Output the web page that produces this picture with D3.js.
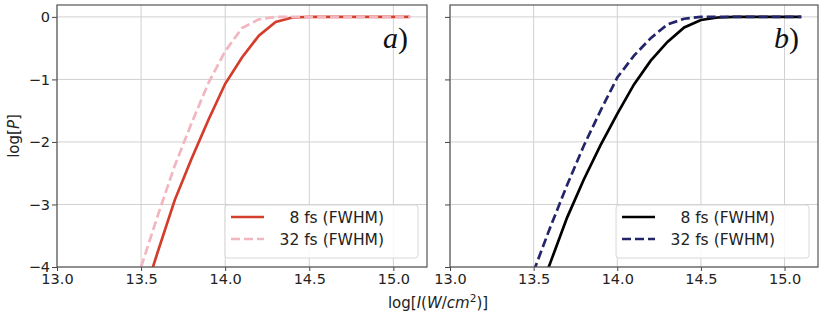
<!DOCTYPE html>
<html>
<head>
<meta charset="utf-8">
<script src="https://cdn.jsdelivr.net/npm/d3@7"></script>
<style>
    body { margin: 0; background: #fff; }
    svg text { font-family: "DejaVu Sans", sans-serif; }
</style>
</head>
<body>
<svg id="chart" width="823" height="316"></svg>
<script>
// log intensity grid shared by all curves
const logI = [13.5, 13.6, 13.7, 13.8, 13.9, 14.0, 14.1, 14.2, 14.3, 14.4, 14.5, 14.6, 14.7, 14.8, 14.9, 15.0, 15.1]

// panel a)
const a8fs = [-4.6, -3.75, -2.93, -2.27, -1.65, -1.07, -0.65, -0.3, -0.08, -0.01, 0, 0, 0, 0, 0, 0, 0]
const a32fs = [-4.0, -3.17, -2.38, -1.7, -1.06, -0.55, -0.18, -0.04, 0, 0, 0, 0, 0, 0, 0, 0, 0]

// panel b)
const b8fs = [-4.65, -3.93, -3.21, -2.6, -2.05, -1.55, -1.08, -0.7, -0.4, -0.17, -0.05, -0.01, 0, 0, 0, 0, 0]
const b32fs = [-4.07, -3.36, -2.69, -2.06, -1.5, -0.97, -0.62, -0.34, -0.12, -0.03, 0, 0, 0, 0, 0, 0, 0]

const xTicks = [13.0, 13.5, 14.0, 14.5, 15.0]
const yTicks = [0, -1, -2, -3, -4]
const legendLabels = ["8 fs (FWHM)", "32 fs (FWHM)"]

const panels = [
    {x0: 57, x1: 427, tag: "a", yLabels: true, series: [
        {vals: a8fs, color: "#d43d2b", dash: null},
        {vals: a32fs, color: "#f2b6c0", dash: "9,4"}
    ]},
    {x0: 450, x1: 818, tag: "b", yLabels: false, series: [
        {vals: b8fs, color: "#000000", dash: null},
        {vals: b32fs, color: "#23256b", dash: "9,4"}
    ]}
]

const plotTop = 5, plotBottom = 267

let svg = d3.select("#chart")

panels.forEach((p, pi) => {
    const x = d3.scaleLinear().domain([13.0, 15.2]).range([p.x0, p.x1])
    const y = d3.scaleLinear().domain([-4, 0.19]).range([plotBottom, plotTop])

    let g = svg.append("g")

    // clip
    svg.append("clipPath").attr("id", "clip" + pi)
        .append("rect")
        .attr("x", p.x0).attr("y", plotTop)
        .attr("width", p.x1 - p.x0).attr("height", plotBottom - plotTop)

    // grid
    g.selectAll(".vgrid").data(xTicks).enter().append("line")
        .attr("x1", d => x(d)).attr("x2", d => x(d))
        .attr("y1", plotTop).attr("y2", plotBottom)
        .attr("stroke", "#d0d0d0").attr("stroke-width", 1)
    g.selectAll(".hgrid").data(yTicks).enter().append("line")
        .attr("x1", p.x0).attr("x2", p.x1)
        .attr("y1", d => y(d)).attr("y2", d => y(d))
        .attr("stroke", "#d0d0d0").attr("stroke-width", 1)

    // curves
    const line = d3.line()
        .x((d, i) => x(logI[i]))
        .y(d => y(d))

    p.series.forEach(s => {
        g.append("path")
            .attr("clip-path", `url(#clip${pi})`)
            .attr("d", line(s.vals))
            .attr("fill", "none")
            .attr("stroke", s.color)
            .attr("stroke-width", 2.7)
            .attr("stroke-dasharray", s.dash)
    })

    // axes
    let xAxis = g.append("g")
        .attr("transform", `translate(0,${plotBottom})`)
        .call(d3.axisBottom(x).tickValues(xTicks).tickFormat(d3.format(".1f")).tickSize(4).tickPadding(3))
    let yAxis = g.append("g")
        .attr("transform", `translate(${p.x0},0)`)
        .call(d3.axisLeft(y).tickValues(yTicks)
            .tickFormat(p.yLabels ? (d => d3.format("d")(d).replace("-", "\u2212")) : "")
            .tickSize(5).tickPadding(2))

    ;[xAxis, yAxis].forEach(ax => {
        ax.select(".domain").remove()
        ax.selectAll("line").attr("stroke", "#444")
        ax.selectAll("text").attr("fill", "#222").style("font-size", "14.5px")
            .style("font-family", "DejaVu Sans")
    })

    // frame
    g.append("rect")
        .attr("x", p.x0).attr("y", plotTop)
        .attr("width", p.x1 - p.x0).attr("height", plotBottom - plotTop)
        .attr("fill", "none").attr("stroke", "#555").attr("stroke-width", 1.2)

    // panel tag
    let tag = g.append("text")
        .attr("x", p.x1 - 44).attr("y", 48)
        .style("font-family", "Liberation Serif, serif")
        .style("font-size", "30px")
        .attr("fill", "#111")
    tag.append("tspan").style("font-style", "italic").text(p.tag)
    tag.append("tspan").text(")")

    // legend
    const lx = p.x1 - 202, ly = 205
    let leg = g.append("g")
    leg.append("rect")
        .attr("x", lx).attr("y", ly)
        .attr("width", 193).attr("height", 53)
        .attr("rx", 3)
        .attr("fill", "#fff").attr("fill-opacity", 0.85)
        .attr("stroke", "#d8d8d8")
    p.series.forEach((s, i) => {
        const ry = ly + 12 + i * 22
        leg.append("line")
            .attr("x1", lx + 6).attr("x2", lx + 39)
            .attr("y1", ry).attr("y2", ry)
            .attr("stroke", s.color).attr("stroke-width", 2.7)
            .attr("stroke-dasharray", s.dash)
        leg.append("text")
            .attr("x", lx + 159).attr("y", ry + 5.5)
            .attr("text-anchor", "end")
            .style("font-size", "15.5px")
            .attr("fill", "#222")
            .text(legendLabels[i])
    })
})

// axis titles
let xl = svg.append("text")
    .attr("x", 438).attr("y", 308)
    .attr("text-anchor", "middle")
    .style("font-size", "15px")
    .attr("fill", "#222")
xl.append("tspan").text("log[")
xl.append("tspan").style("font-style", "italic").text("I")
xl.append("tspan").text("(")
xl.append("tspan").style("font-style", "italic").text("W")
xl.append("tspan").text("/")
xl.append("tspan").style("font-style", "italic").text("cm")
xl.append("tspan").attr("dy", -6).style("font-size", "10.5px").text("2")
xl.append("tspan").attr("dy", 6).text(")]")

let yl = svg.append("text")
    .attr("transform", "translate(19,136) rotate(-90)")
    .attr("text-anchor", "middle")
    .style("font-size", "15px")
    .attr("fill", "#222")
yl.append("tspan").text("log[")
yl.append("tspan").style("font-style", "italic").text("P")
yl.append("tspan").text("]")
</script>
</body>
</html>
